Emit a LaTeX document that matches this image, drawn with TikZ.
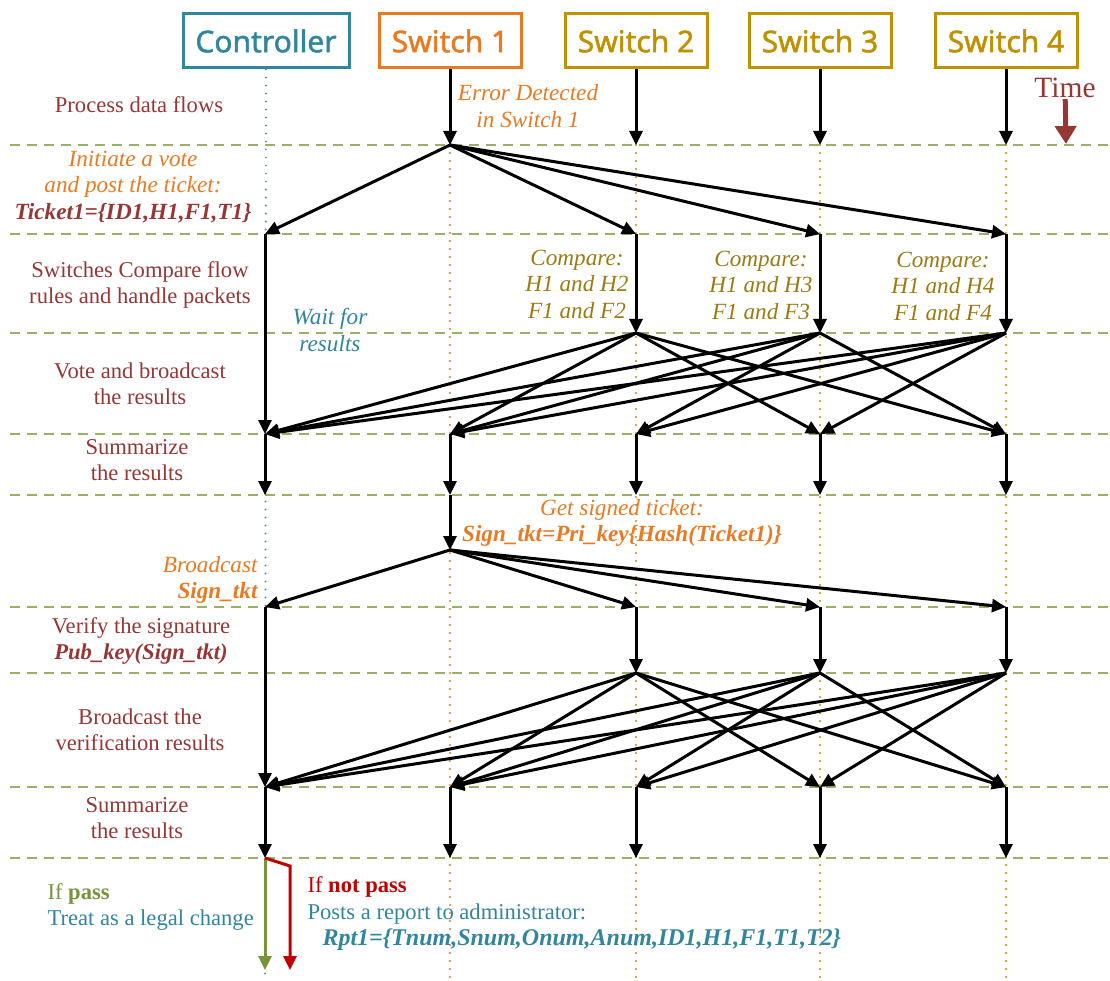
\documentclass[tikz,border=0pt]{standalone}
\usepackage{fontspec}
\setmainfont{Liberation Serif}
\newfontfamily\headfont{Noto Sans}[FakeBold=1.6]
\usetikzlibrary{arrows.meta, positioning, calc}

\definecolor{ctrlteal}{HTML}{31859C}
\definecolor{swone}{HTML}{E97A24}
\definecolor{swgold}{HTML}{BF9000}
\definecolor{cmpgold}{HTML}{9C7A12}
\definecolor{txtred}{HTML}{953735}
\definecolor{gridgreen}{HTML}{9BB067}
\definecolor{passgreen}{HTML}{77933C}
\definecolor{failred}{HTML}{C00000}

\begin{document}
\begin{tikzpicture}[
    x=1pt, y=-1pt,
    head/.style={rectangle, draw, line width=3pt, minimum width=142pt, minimum height=54pt, font=\headfont\fontsize{30}{32}\selectfont},
    lbl/.style={align=center, text=txtred, font=\fontsize{22.6}{26.5}\selectfont},
    note/.style={align=center, font=\fontsize{23.2}{26.5}\selectfont\itshape},
    arrow/.style={-{Triangle[length=14pt,width=13pt]}, line width=3pt},
    sep/.style={gridgreen, line width=1.5pt, dash pattern=on 10pt off 7pt},
    life/.style={line width=2.2pt, line cap=round, dash pattern=on 0pt off 8pt}
]
\useasboundingbox (0,0) rectangle (1110,981);

% Grid points: columns (controller, switches) and time steps
\foreach \c/\x in {0/265,1/450,2/636,3/820,4/1006}
  \foreach \r/\y in {1/145,2/234,3/333,4/434,5/495,6/607,7/673,8/787,9/858,10/981}
    \coordinate (p\c-\r) at (\x,\y);
\coordinate (sig) at (450,550);

% Step separators
\foreach \y in {145,234,333,434,495,607,673,787,858}
  \draw[sep] (10,\y) -- (1110,\y);

% Header nodes
\node[head, draw=ctrlteal, text=ctrlteal, minimum width=166pt] (ctrl) at (266,41) {Controller};
\node[head, draw=swone, text=swone] (sw1) at (450,41) {Switch 1};
\node[head, draw=swgold, text=swgold] (sw2) at (636,41) {Switch 2};
\node[head, draw=swgold, text=swgold] (sw3) at (820,41) {Switch 3};
\node[head, draw=swgold, text=swgold] (sw4) at (1006,41) {Switch 4};

% Lifelines
\draw[life, ctrlteal!85] (ctrl) -- (p0-10);
\draw[life, swone] (p1-1) -- (p1-10);
\foreach \c in {2,3,4}
  \draw[life, swgold] (p\c-1) -- (p\c-10);

% Time
\node[text=txtred, inner sep=1pt, font=\fontsize{29.5}{31}\selectfont] (time) at (1065,88) {Time};
\coordinate (timeend) at (1066,144);
\draw[-{Triangle[length=18pt,width=21pt]}, line width=5pt, txtred] (time) -- (timeend);

% Process data flows
\foreach \c in {1,2,3,4}
  \draw[arrow] (sw\c) -- (p\c-1);

% Initiate the vote
\foreach \c in {0,2,3,4}
  \draw[arrow] (p1-1) -- (p\c-2);
\draw[arrow] (p0-2) -- (p0-4);
\foreach \c in {2,3,4}
  \draw[arrow] (p\c-2) -- (p\c-3);

% Vote and broadcast
\foreach \s in {2,3,4}
  \foreach \t in {0,...,4}
    {\ifnum\s=\t\else\draw[arrow] (p\s-3) -- (p\t-4);\fi}
\foreach \c in {0,...,4}
  \draw[arrow] (p\c-4) -- (p\c-5);

% Signed ticket
\draw[arrow] (p1-5) -- (sig);
\foreach \c in {0,2,3,4}
  \draw[arrow] (sig) -- (p\c-6);
\draw[arrow] (p0-6) -- (p0-8);
\foreach \c in {2,3,4}
  \draw[arrow] (p\c-6) -- (p\c-7);

% Verification results
\foreach \s in {2,3,4}
  \foreach \t in {0,...,4}
    {\ifnum\s=\t\else\draw[arrow] (p\s-7) -- (p\t-8);\fi}
\foreach \c in {0,...,4}
  \draw[arrow] (p\c-8) -- (p\c-9);

% Decision
\coordinate (passend) at (265,970);
\coordinate (bend) at (290,866);
\coordinate (failend) at (290,970);
\draw[arrow, passgreen] (p0-9) -- (passend);
\draw[arrow, failred] (p0-9) -- (bend) -- (failend);

% Step labels
\node[lbl] (flows) at (139,105) {Process data flows};
\node[note, text=swone] (vote) at (133,187) {Initiate a vote\\and post the ticket:\\{\bfseries\color{txtred}Ticket1=\{ID1,H1,F1,T1\}}};
\node[lbl] (cmp) at (140,285) {Switches Compare flow\\rules and handle packets};
\node[lbl] (bcast) at (140,384) {Vote and broadcast\\the results};
\node[lbl] (sum1) at (137,460) {Summarize\\the results};
\node[note, text=swone, anchor=east, align=right] (bsig) at (261,580) {Broadcast\\{\bfseries Sign\_tkt}};
\node[lbl] (verify) at (141,641) {Verify the signature\\{\bfseries\itshape Pub\_key(Sign\_tkt)}};
\node[lbl] (bver) at (140,730) {Broadcast the\\verification results};
\node[lbl] (sum2) at (137,818) {Summarize\\the results};
\node[lbl, anchor=west, align=left, text=ctrlteal] (pass) at (44,907) {{\color{passgreen}If \bfseries pass}\\Treat as a legal change};
\node[lbl, anchor=west, align=left, text=ctrlteal] (fail) at (304,914) {{\color{failred}If \bfseries not pass}\\Posts a report to administrator:\\\hspace*{15pt}{\fontsize{24}{26.5}\selectfont\bfseries\itshape Rpt1=\{Tnum,Snum,Onum,Anum,ID1,H1,F1,T1,T2\}}};

% Notes along the lifelines
\node[note, text=swone] (err) at (528,106) {Error Detected\\in Switch 1};
\node[note, text=ctrlteal] (wait) at (330,330) {Wait for\\results};
\node[note, text=cmpgold] (cmp2) at (577,284) {Compare:\\H1 and H2\\F1 and F2};
\node[note, text=cmpgold] (cmp3) at (761,285) {Compare:\\H1 and H3\\F1 and F3};
\node[note, text=cmpgold] (cmp4) at (943,286) {Compare:\\H1 and H4\\F1 and F4};
\node[note, text=swone] (getsig) at (622,523) {Get signed ticket:\\{\bfseries Sign\_tkt=Pri\_key\{Hash(Ticket1)\}}};

\end{tikzpicture}
\end{document}
